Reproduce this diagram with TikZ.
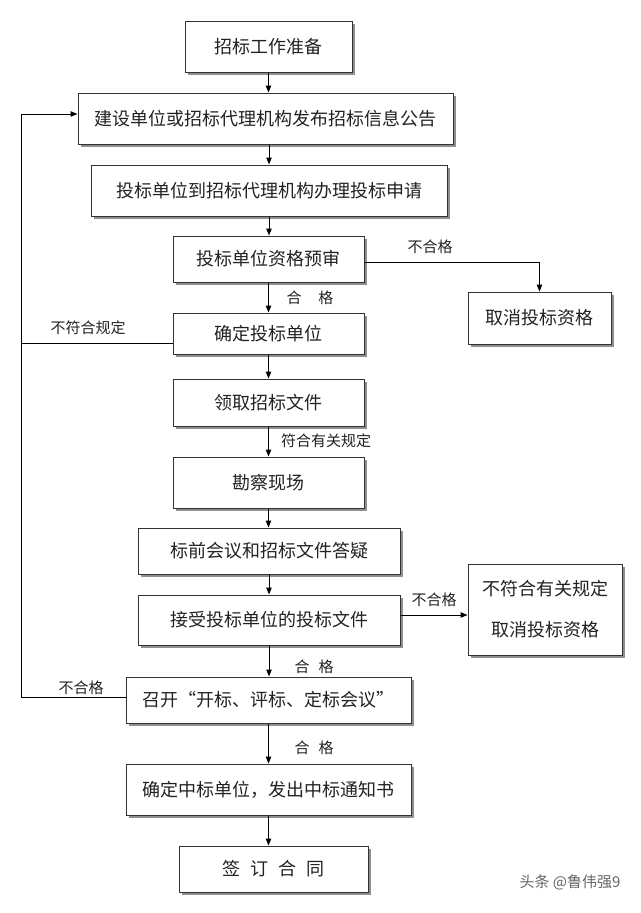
\documentclass[tikz,border=0pt]{standalone}
\usepackage{fontspec}
\newfontfamily\cjk{Noto Sans CJK SC}
\usetikzlibrary{arrows.meta,shadows}
\definecolor{ink}{HTML}{222222}
\definecolor{edge}{HTML}{333333}
\tikzset{
  box/.style={draw=edge, line width=1pt, fill=white, inner sep=0pt,
    font=\cjk\fontsize{18}{22}\selectfont, text=ink,
    drop shadow={shadow xshift=2.5pt, shadow yshift=-2.5pt, fill=black!55, opacity=0.8}},
  lbl/.style={font=\cjk\fontsize{15}{18}\selectfont, text=ink, inner sep=0pt},
  arr/.style={draw=black, line width=1pt, -{Triangle[length=7pt,width=5.5pt]}},
  ln/.style={draw=black, line width=1pt},
}
\begin{document}
\begin{tikzpicture}[x=1pt,y=-1pt]
\fill[white] (0,0) rectangle (640,913);
\useasboundingbox (0,0) rectangle (640,913);

\node[box, minimum width=167pt, minimum height=51pt] (b1) at (268.5,46.5) {招标工作准备};
\node[box, minimum width=375pt, minimum height=51pt] (b2) at (265.5,118.5) {建设单位或招标代理机构发布招标信息公告};
\node[box, minimum width=356pt, minimum height=51pt] (b3) at (269,190.5) {投标单位到招标代理机构办理投标申请};
\node[box, minimum width=191pt, minimum height=46pt] (b4) at (268.5,259) {投标单位资格预审};
\node[box, minimum width=143pt, minimum height=52pt] (r1) at (539.5,318) {取消投标资格};
\node[box, minimum width=191pt, minimum height=41pt] (b5) at (268.5,333.5) {确定投标单位};
\node[box, minimum width=191pt, minimum height=47pt] (b6) at (268.5,402.5) {领取招标文件};
\node[box, minimum width=191pt, minimum height=51pt] (b7) at (268.5,482.5) {勘察现场};
\node[box, minimum width=262pt, minimum height=46pt] (b8) at (269,551) {标前会议和招标文件答疑};
\node[box, minimum width=262pt, minimum height=50pt] (b9) at (269,620) {接受投标单位的投标文件};
\node[box, minimum width=154pt, minimum height=91pt, align=center,
      font=\cjk\fontsize{18}{41}\selectfont] (r2) at (545,609.5) {不符合有关规定\\取消投标资格};
\node[box, minimum width=285pt, minimum height=46pt] (b10) at (268.5,700) {召开“开标、评标、定标会议”};
\node[box, minimum width=285pt, minimum height=51pt] (b11) at (268.5,789.5) {确定中标单位，发出中标通知书};
\node[box, minimum width=189pt, minimum height=46pt] (b12) at (273.5,869) {签\hspace{10pt}订\hspace{10pt}合\hspace{10pt}同};

% main flow
\draw[arr] (b1.south) -- (b1.south |- b2.north);
\draw[arr] (b2.south -| b3.north) -- (b3.north);
\draw[arr] (b3.south) -- (b3.south |- b4.north);
\draw[arr] (b4.south) -- (b5.north);
\draw[arr] (b5.south) -- (b6.north);
\draw[arr] (b6.south) -- (b7.north);
\draw[arr] (b7.south) -- (b7.south |- b8.north);
\draw[arr] (b8.south) -- (b9.north);
\draw[arr] (b9.south) -- (b9.south |- b10.north);
\draw[arr] (b10.south) -- (b11.north);
\draw[arr] (b11.south) -- (b11.south |- b12.north);

% rejections to the right
\draw[arr] ([yshift=-3pt]b4.east) -| (r1.north);
\draw[arr] ([yshift=5pt]b9.east) coordinate (p9) -- (p9 -| r2.west);

% feedback loop on the left
\coordinate (lb) at (21,697);
\coordinate (lt) at (21,114);
\draw[ln] ([yshift=3pt]b10.west) -- (lb) -- (lt);
\draw[arr] (lt) -- (lt -| b2.west);
\draw[ln] ([yshift=-9.5pt]b5.west) coordinate (p5) -- (p5 -| lb);

% labels
\node[lbl] (l1) at (430,247) {不合格};
\node[lbl] (l2) at (310,298) {合\hspace{17pt}格};
\node[lbl] (l3) at (88,328) {不符合规定};
\node[lbl] (l4) at (326,441) {符合有关规定};
\node[lbl] (l5) at (434,600) {不合格};
\node[lbl] (l6) at (314,667) {合\hspace{9pt}格};
\node[lbl] (l7) at (81,688) {不合格};
\node[lbl] (l8) at (314,748) {合\hspace{9pt}格};

% watermark
\node[font=\cjk\fontsize{15}{18}\selectfont, text=black!60, inner sep=0pt] (wm) at (570,882) {头条 @鲁伟强9};
\end{tikzpicture}
\end{document}
